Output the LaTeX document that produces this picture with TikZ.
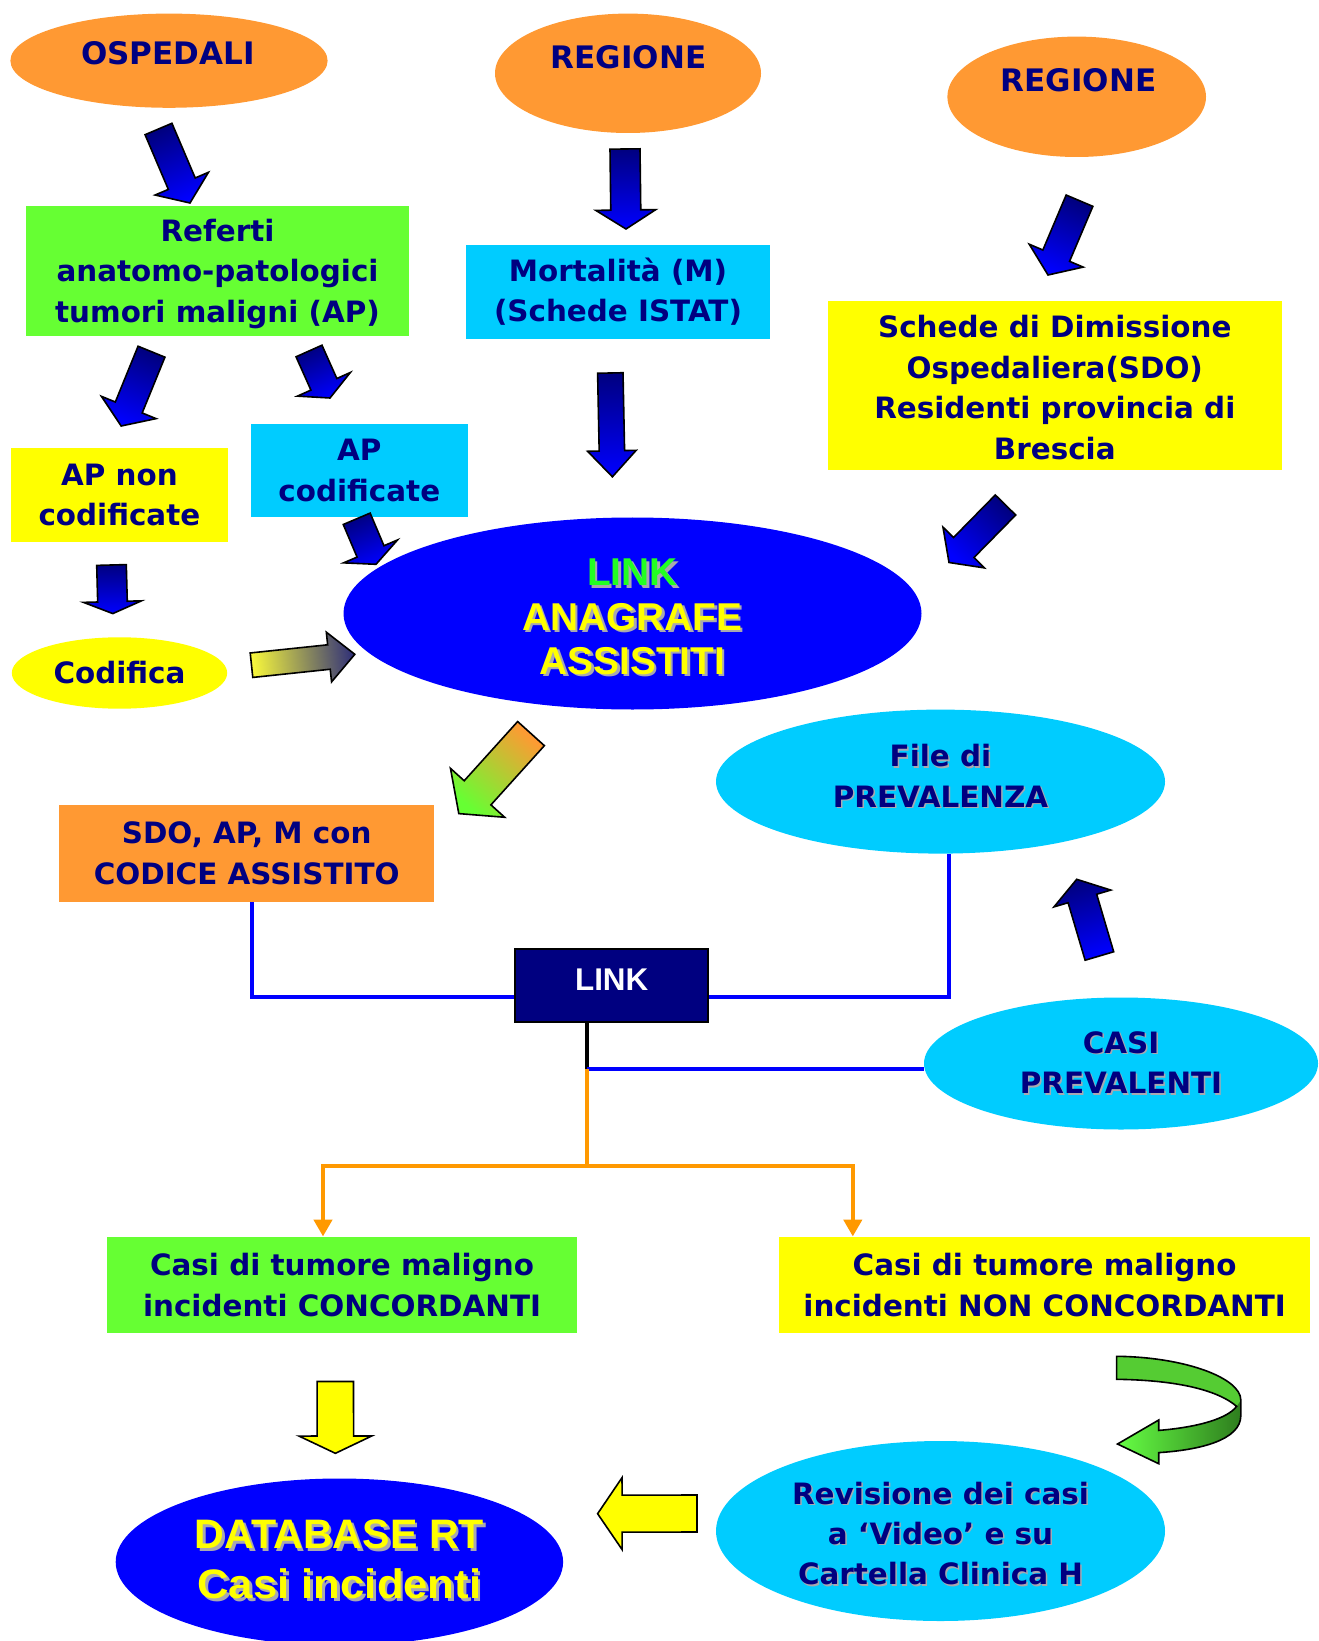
\documentclass[tikz,border=0pt]{standalone}
\usepackage{fontspec}
\setmainfont{DejaVu Sans}
\newfontfamily\arialf{Liberation Sans}
\usetikzlibrary{shapes.geometric,calc,arrows.meta}
\definecolor{txt}{HTML}{000080}
\definecolor{orng}{HTML}{FF9933}
\definecolor{grn}{HTML}{66FF33}
\definecolor{cyn}{HTML}{00CCFF}
\definecolor{ylw}{HTML}{FFFF00}
\definecolor{blu}{HTML}{0000FF}
\definecolor{nvy}{HTML}{000080}
\definecolor{lnkgrn}{HTML}{22FF22}
\definecolor{shd}{HTML}{A8A8B0}
\definecolor{lineorange}{HTML}{FF9900}
\definecolor{ya}{HTML}{F5F53C}
\definecolor{yb}{HTML}{B4AA5A}
\definecolor{yc}{HTML}{323278}
\definecolor{oa}{HTML}{FF9933}
\definecolor{ob}{HTML}{BBD23A}
\definecolor{oc}{HTML}{66FF33}
\definecolor{ga}{HTML}{66FF44}
\definecolor{gb}{HTML}{2E7D1E}
\definecolor{gtop}{HTML}{55CC33}
\newcommand\shadowtext[3][0.75pt]{\makebox[0pt][l]{\kern#1\raisebox{-#1}{\textcolor{shd}{#3}}}\textcolor{#2}{#3}}
\newcommand\blockarrow[6][]{%
  \coordinate (ba-neck) at ($(#3)!#6!(#2)$);
  \draw[#1] ($(#2)!#4!90:(#3)$) -- ($(ba-neck)!#4!90:(#3)$) -- ($(ba-neck)!#5!90:(#3)$) -- (#3)
    -- ($(ba-neck)!#5!-90:(#3)$) -- ($(ba-neck)!#4!-90:(#3)$) -- ($(#2)!#4!-90:(#3)$) -- cycle;}
\begin{document}
\begin{tikzpicture}[x=0.5pt,y=-0.5pt,
  every node/.style={font=\bfseries\fontsize{14.7}{20.2}\selectfont, text=txt, align=center, inner sep=0pt},
  ell/.style={ellipse, fill=#1},
  box/.style={rectangle, fill=#1},
  barr/.style={draw=black, line width=0.8pt, line join=miter, top color=nvy, bottom color=blu, shading angle=#1},
  yarr/.style={draw=black, line width=0.8pt, fill=ylw},
  blueline/.style={draw=blu, line width=2pt},
  orline/.style={draw=lineorange, line width=2pt, -{Triangle[width=9pt,length=8.4pt]}},
  hdr/.style={font=\bfseries\fontsize{15.5}{19}\selectfont},
  bigtext/.style={font=\arialf\bfseries\fontsize{19.4}{22.2}\selectfont},
  hugetext/.style={font=\arialf\bfseries\fontsize{20.6}{25}\selectfont}]
\useasboundingbox (0,0) rectangle (1318,1641);

% ---- top sources
\node[ell=orng, minimum width=158.6pt, minimum height=47.1pt] (osp) at (169,60.7) {};
\node[hdr] (osp-t) at (168,53) {OSPEDALI};
\node[ell=orng, minimum width=133pt, minimum height=59.7pt] (reg1) at (628,73.3) {};
\node[hdr] (reg1-t) at (628.5,57) {REGIONE};
\node[ell=orng, minimum width=129.3pt, minimum height=60.2pt] (reg2) at (1076.7,96.8) {};
\node[hdr] (reg2-t) at (1078.5,80) {REGIONE};

% ---- boxes and ellipses
\node[box=grn, minimum width=191.5pt, minimum height=65pt] (ref) at (217.5,271) {};
\node (ref-t) at (217.5,274) {Referti\\anatomo-patologici\\tumori maligni (AP)};
\node[box=cyn, minimum width=152pt, minimum height=46.8pt] (mort) at (618,291.8) {Mortalità (M)\\(Schede ISTAT)};
\node[box=ylw, minimum width=226.8pt, minimum height=84.3pt] (sdo) at (1054.8,385.3) {};
\node (sdo-t) at (1054.8,387.5) {Schede di Dimissione\\Ospedaliera(SDO)\\Residenti provincia di\\Brescia};
\node[box=ylw, minimum width=108.35pt, minimum height=47.15pt] (apnon) at (119.4,494.7) {AP non\\codificate};
\node[box=cyn, minimum width=108.3pt, minimum height=46.5pt] (apcod) at (359.3,470.5) {AP\\codificate};
\node[ell=blu, minimum width=289pt, minimum height=96pt] (anag) at (632.5,613.5) {};
\node[bigtext] (anag-t) at (632.5,618.2)
  {\shadowtext[1.2pt]{lnkgrn}{LINK}\\\shadowtext[1.2pt]{ylw}{ANAGRAFE}\\\shadowtext[1.2pt]{ylw}{ASSISTITI}};
\node[ell=ylw, minimum width=107.7pt, minimum height=35.7pt] (cod) at (119.5,673) {Codifica};
\node[box=orng, minimum width=187.65pt, minimum height=48.4pt] (sdoap) at (246.7,853.4) {SDO, AP, M con\\CODICE ASSISTITO};
\node[ell=cyn, minimum width=224.5pt, minimum height=72pt] (file) at (940.5,781.6) {};
\node (file-t) at (940.5,776.4) {\shadowtext{txt}{File di}\\\shadowtext{txt}{PREVALENZA}};
\node[box=nvy, draw=black, line width=1pt, minimum width=96.85pt, minimum height=36.5pt] (lnk) at (611.5,985.5) {};
\node[text=white, font=\arialf\bfseries\fontsize{15.7}{17}\selectfont] (lnk-t) at (611.7,979.5) {LINK};
\node[ell=cyn, minimum width=197pt, minimum height=66pt] (casi) at (1121,1063.5) {\shadowtext{txt}{CASI}\\\shadowtext{txt}{PREVALENTI}};
\node[box=grn, minimum width=234.65pt, minimum height=48.15pt] (conc) at (342,1285) {Casi di tumore maligno\\incidenti CONCORDANTI};
\node[box=ylw, minimum width=265.15pt, minimum height=48.15pt] (nconc) at (1044.6,1285) {Casi di tumore maligno\\incidenti NON CONCORDANTI};
\node[ell=blu, minimum width=223.7pt, minimum height=83.5pt] (db) at (339.4,1562) {};
\node[hugetext] (db-t) at (339.4,1561) {\shadowtext[1.3pt]{ylw}{DATABASE RT}\\\scalebox{1.06}[1]{\shadowtext[1.3pt]{ylw}{Casi incidenti}}};
\node[ell=cyn, minimum width=224.5pt, minimum height=90pt] (rev) at (940.5,1531) {};
\node (rev-t) at (940.5,1534.2) {\shadowtext{txt}{Revisione dei casi}\\\shadowtext{txt}{a ‘Video’ e su}\\\shadowtext{txt}{Cartella Clinica H}};

% ---- block arrows
\coordinate (a1t) at (158.5,129);   \coordinate (a1h) at (190,203);
\blockarrow[barr=23]{a1t}{a1h}{7.3pt}{14.5pt}{10.5pt}
\coordinate (a2t) at (625,149);     \coordinate (a2h) at (626,229);
\blockarrow[barr=0]{a2t}{a2h}{7.5pt}{15pt}{9.5pt}
\coordinate (a3t) at (1079.5,200.7); \coordinate (a3h) at (1048,275);
\blockarrow[barr=-23]{a3t}{a3h}{7.25pt}{14.65pt}{10.5pt}
\coordinate (a4t) at (151.5,351.7); \coordinate (a4h) at (121.2,426);
\blockarrow[barr=-22]{a4t}{a4h}{7.25pt}{14.75pt}{10pt}
\coordinate (a5t) at (309,351);     \coordinate (a5h) at (330,398);
\blockarrow[barr=24]{a5t}{a5h}{7.1pt}{14.5pt}{7.5pt}
\coordinate (a6t) at (610.3,373);   \coordinate (a6h) at (612.4,476.8);
\blockarrow[barr=1]{a6t}{a6h}{6.35pt}{12.15pt}{13pt}
\coordinate (a7t) at (356.7,518.8); \coordinate (a7h) at (376,564.3);
\blockarrow[barr=23]{a7t}{a7h}{7.3pt}{14.65pt}{7pt}
\coordinate (a8t) at (1005.5,505);  \coordinate (a8h) at (949,562.5);
\blockarrow[barr=-44.5]{a8t}{a8h}{7.15pt}{14.55pt}{10.5pt}
\coordinate (a9t) at (111.5,565);   \coordinate (a9h) at (112.8,613.6);
\blockarrow[barr=0]{a9t}{a9h}{7.4pt}{14.5pt}{6pt}
\coordinate (a10t) at (251.5,665.2); \coordinate (a10h) at (354.8,654.3);
\blockarrow[draw=black, line width=0.8pt, top color=ya, middle color=yb, bottom color=yc, shading angle=96]{a10t}{a10h}{6.15pt}{12.5pt}{13pt}
\coordinate (a11t) at (531,733.6);  \coordinate (a11h) at (458.8,813.6);
\blockarrow[draw=black, line width=0.8pt, top color=oa, middle color=ob, bottom color=oc, shading angle=-42]{a11t}{a11h}{9pt}{18.25pt}{14pt}
\coordinate (a12t) at (1099.4,956); \coordinate (a12h) at (1076.7,879.3);
\blockarrow[barr=16.5]{a12t}{a12h}{7.45pt}{14.8pt}{10pt}
\coordinate (a13t) at (335.3,1381.5); \coordinate (a13h) at (335.4,1453.3);
\blockarrow[yarr]{a13t}{a13h}{9.1pt}{18.2pt}{8.65pt}
\coordinate (a14t) at (697,1513.5); \coordinate (a14h) at (597.6,1513.7);
\blockarrow[yarr]{a14t}{a14h}{9.25pt}{18pt}{12.25pt}

% ---- connectors
\draw[blueline] ($(sdoap.south)+(5,0)$) |- ($(lnk.west)+(0,11.5)$);
\draw[blueline] ($(lnk.east)+(0,11.5)$) -| ($(file.south)+(8,0)$);
\coordinate (j1) at (587,1069);
\coordinate (j2) at (587,1165.5);
\draw[line width=2pt, black] (lnk.south -| j1) -- (j1);
\draw[blueline] (j1) -- (j1 -| casi.west);
\draw[line width=2pt, lineorange] (j1) -- (j2);
\draw[orline] (j2) -| ($(conc.north)+(-19,0)$);
\draw[orline] (j2) -| ($(nconc.north)+(-191.8,0)$);

% ---- curved green arrow
\path[left color=ga, right color=gb] (1116.6,1356.3) .. controls (1185,1357) and (1240.8,1378) .. (1240.8,1400)
  -- (1240.8,1415.6) .. controls (1240.8,1440) and (1200,1450) .. (1158.7,1452.6)
  -- (1158.7,1463.7) -- (1117.5,1444) -- (1158.7,1420) -- (1158.7,1430.4)
  .. controls (1200,1427) and (1228,1418) .. (1236.6,1406.3)
  .. controls (1215,1388) and (1170,1380) .. (1116.6,1379.3) -- cycle;
\fill[gtop] (1116.6,1356.3) .. controls (1185,1357) and (1240.8,1378) .. (1240.8,1400)
  -- (1236.6,1406.3) .. controls (1215,1388) and (1170,1380) .. (1116.6,1379.3) -- cycle;
\draw[black, line width=0.8pt, line join=miter] (1116.6,1356.3) .. controls (1185,1357) and (1240.8,1378) .. (1240.8,1400)
  -- (1240.8,1415.6) .. controls (1240.8,1440) and (1200,1450) .. (1158.7,1452.6)
  -- (1158.7,1463.7) -- (1117.5,1444) -- (1158.7,1420) -- (1158.7,1430.4)
  .. controls (1200,1427) and (1228,1418) .. (1236.6,1406.3)
  .. controls (1215,1388) and (1170,1380) .. (1116.6,1379.3) -- cycle;
\end{tikzpicture}
\end{document}
